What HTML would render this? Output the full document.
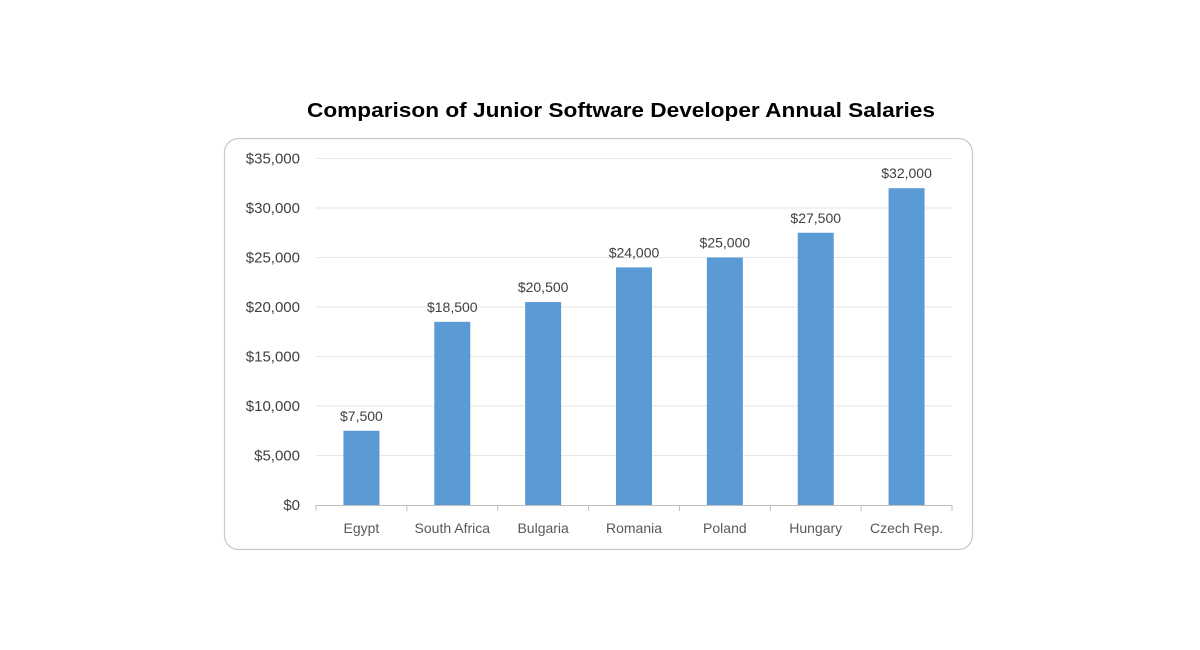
<!DOCTYPE html>
<html><head><meta charset="utf-8"><style>
html,body{margin:0;padding:0;background:#fff;}
svg{display:block;font-family:"Liberation Sans",sans-serif;}
</style></head><body>
<svg id="chart" width="1200" height="650">
<text x="621" y="117" text-anchor="middle" font-size="20" font-weight="bold" fill="#000" textLength="628" lengthAdjust="spacingAndGlyphs">Comparison of Junior Software Developer Annual Salaries</text>
<rect x="224.5" y="138.5" width="748" height="411" rx="14" fill="#fff" stroke="#c8c8c8" stroke-width="1.2"/>
<g id="grid"></g><g id="bars"></g><g id="labels"></g>
</svg>
<script>
const categories=["Egypt","South Africa","Bulgaria","Romania","Poland","Hungary","Czech Rep."];
const values=[7500,18500,20500,24000,25000,27500,32000];
const valueLabels=["$7,500","$18,500","$20,500","$24,000","$25,000","$27,500","$32,000"];
const yTicks=[0,5000,10000,15000,20000,25000,30000,35000];
const yTickLabels=["$0","$5,000","$10,000","$15,000","$20,000","$25,000","$30,000","$35,000"];
const NS="http://www.w3.org/2000/svg";
const x0=316,x1=952,y0=505,yTop=158.5,yMax=35000;
const bw=(x1-x0)/categories.length;
const ys=v=>y0-(v/yMax)*(y0-yTop);
const xc=i=>x0+(i+0.5)*bw;
function mk(tag,attrs,parent){const e=document.createElementNS(NS,tag);for(const k in attrs)e.setAttribute(k,attrs[k]);parent.appendChild(e);return e;}
const grid=document.getElementById('grid'),bars=document.getElementById('bars'),labels=document.getElementById('labels');
yTicks.forEach((t,i)=>{
  if(t>0){const l=mk('line',{x1:x0,x2:x1,y1:ys(t),y2:ys(t),stroke:'#e6e6e6','stroke-width':1},grid);
  
  }
  const tx=mk('text',{x:300,y:ys(t)+5,'text-anchor':'end','font-size':15,fill:'#404040'},labels);
  tx.textContent=yTickLabels[i];
  
  
});
const ax=mk('line',{x1:x0,x2:x1,y1:y0+0.5,y2:y0+0.5,stroke:'#bfbfbf','stroke-width':1},grid);


for(let i=0;i<=categories.length;i++){
  const tk=mk('line',{x1:x0+i*bw,x2:x0+i*bw,y1:y0,y2:y0+6,stroke:'#bfbfbf'},grid);
  
  
}
categories.forEach((c,i)=>{
  const b=mk('rect',{x:xc(i)-18,y:ys(values[i]),width:36,height:y0-ys(values[i]),fill:'#5b9bd5'},bars);
  
  
  const v=mk('text',{x:xc(i),y:ys(values[i])-10,'text-anchor':'middle','font-size':14,fill:'#404040'},labels);
  v.textContent=valueLabels[i];
  
  
  const cl=mk('text',{x:xc(i),y:533,'text-anchor':'middle','font-size':14,fill:'#595959'},labels);
  cl.textContent=c;
  
  
});
</script>
</body></html>
